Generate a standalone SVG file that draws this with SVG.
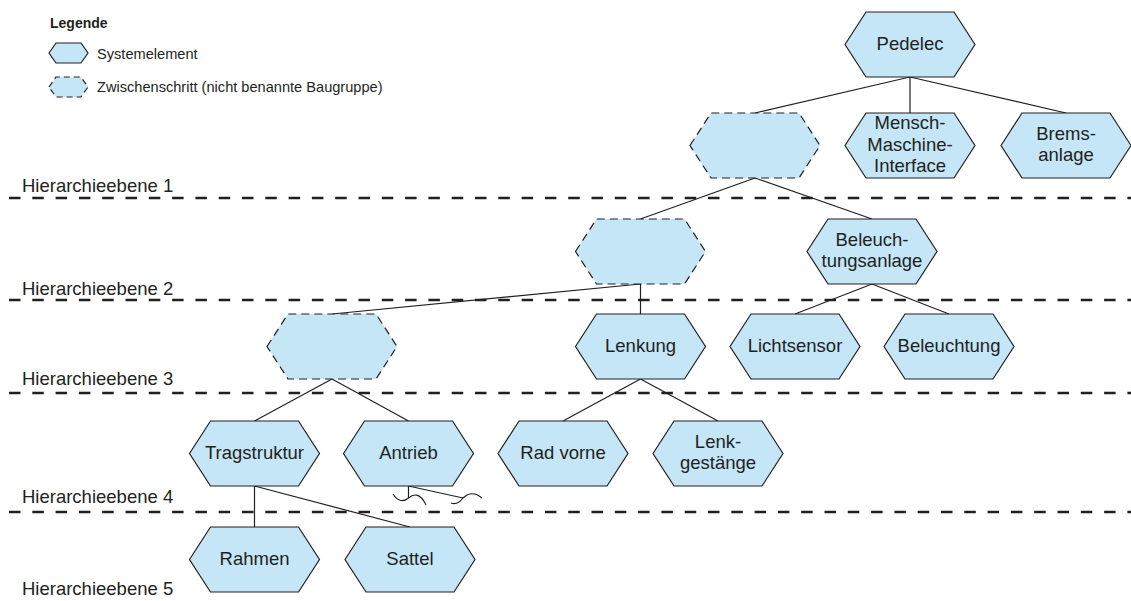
<svg xmlns="http://www.w3.org/2000/svg" width="1131" height="601" viewBox="0 0 1131 601">
  <defs>
    <style>
      .hex { fill: #c4e6f7; stroke: #231f20; stroke-width: 1.2; }
      .hex-dash { fill: #c4e6f7; stroke: #231f20; stroke-width: 1.2; stroke-dasharray: 8 5; }
      .lbl { font-family: "Liberation Sans", Arial, sans-serif; font-size: 18.5px; fill: #231f20; text-anchor: middle; }
      .lvl { font-family: "Liberation Sans", Arial, sans-serif; font-size: 18.5px; fill: #231f20; }
      .leg { font-family: "Liberation Sans", Arial, sans-serif; font-size: 14.6px; fill: #231f20; }
      .leg-title { font-family: "Liberation Sans", Arial, sans-serif; font-size: 14px; font-weight: bold; fill: #231f20; }
      .sep { stroke: #231f20; stroke-width: 2.3; stroke-dasharray: 11.5 11.8; fill: none; }
      .edge { stroke: #231f20; stroke-width: 1.2; fill: none; }
      .brk { stroke: #231f20; stroke-width: 1.1; fill: none; }
    </style>
    <!-- hexagon 130 x 65, origin at centre -->
    <polygon id="hx" points="-65,0 -44,-32.5 44,-32.5 65,0 44,32.5 -44,32.5"/>
  </defs>

  <!-- legend -->
  <g id="legend">
    <text class="leg-title" x="50" y="28">Legende</text>
    <polygon class="hex" points="49,53 56,43 81,43 88,53 81,63 56,63"/>
    <text class="leg" x="97" y="59">Systemelement</text>
    <polygon class="hex-dash" points="49,87 56,77 81,77 88,87 81,97 56,97" style="stroke-dasharray:6 4"/>
    <text class="leg" x="97" y="92">Zwischenschritt (nicht benannte Baugruppe)</text>
  </g>

  <!-- hierarchy levels -->
  <g id="levels">
    <line class="sep" x1="9" y1="198" x2="1131" y2="198"/>
    <line class="sep" x1="9" y1="300" x2="1131" y2="300"/>
    <line class="sep" x1="9" y1="393" x2="1131" y2="393"/>
    <line class="sep" x1="9" y1="512" x2="1131" y2="512"/>
    <text class="lvl" x="22" y="192">Hierarchieebene 1</text>
    <text class="lvl" x="22" y="295">Hierarchieebene 2</text>
    <text class="lvl" x="22" y="385">Hierarchieebene 3</text>
    <text class="lvl" x="22" y="503">Hierarchieebene 4</text>
    <text class="lvl" x="22" y="595">Hierarchieebene 5</text>
  </g>

  <!-- connectors -->
  <g id="connectors">
    <line class="edge" x1="910" y1="77" x2="755" y2="113"/>
    <line class="edge" x1="910" y1="77" x2="910" y2="113"/>
    <line class="edge" x1="910" y1="77" x2="1066" y2="113"/>
    <line class="edge" x1="755" y1="178" x2="640.5" y2="219"/>
    <line class="edge" x1="755" y1="178" x2="872" y2="219"/>
    <line class="edge" x1="640.5" y1="284" x2="332" y2="314"/>
    <line class="edge" x1="640.5" y1="284" x2="640.5" y2="314"/>
    <line class="edge" x1="872" y1="284" x2="795" y2="314"/>
    <line class="edge" x1="872" y1="284" x2="949" y2="314"/>
    <line class="edge" x1="332" y1="379" x2="254.5" y2="421"/>
    <line class="edge" x1="332" y1="379" x2="408.5" y2="421"/>
    <line class="edge" x1="640.5" y1="379" x2="563" y2="421"/>
    <line class="edge" x1="640.5" y1="379" x2="718" y2="421"/>
    <line class="edge" x1="254.5" y1="486" x2="254.5" y2="527"/>
    <line class="edge" x1="254.5" y1="486" x2="410" y2="527"/>
    <!-- truncated branches below Antrieb -->
    <line class="edge" x1="408.5" y1="486" x2="408.5" y2="498"/>
    <line class="edge" x1="408.5" y1="486" x2="463" y2="498"/>
    <path class="brk" d="M393,494 C398,502 404,502 408.5,498 C413,494 420,492 426,505"/>
    <path class="brk" d="M451,503 C456,505 460,502 463,498 C467,494 474,491 482,498"/>
  </g>

  <!-- nodes -->
  <g id="n-pedelec" transform="translate(910,44.5)">
    <use href="#hx" class="hex"/>
    <text class="lbl" y="5">Pedelec</text>
  </g>
  <g id="n-step1" transform="translate(755,145.5)">
    <use href="#hx" class="hex-dash"/>
  </g>
  <g id="n-mmi" transform="translate(910,145.5)">
    <use href="#hx" class="hex"/>
    <text class="lbl" y="-16.3">Mensch-</text>
    <text class="lbl" y="5">Maschine-</text>
    <text class="lbl" y="26.3">Interface</text>
  </g>
  <g id="n-brems" transform="translate(1066,145.5)">
    <use href="#hx" class="hex"/>
    <text class="lbl" y="-5.7">Brems-</text>
    <text class="lbl" y="15.7">anlage</text>
  </g>
  <g id="n-step2" transform="translate(640.5,251.5)">
    <use href="#hx" class="hex-dash"/>
  </g>
  <g id="n-beleuchtungsanlage" transform="translate(872,251.5)">
    <use href="#hx" class="hex"/>
    <text class="lbl" y="-5.7">Beleuch-</text>
    <text class="lbl" y="15.7">tungsanlage</text>
  </g>
  <g id="n-step3" transform="translate(332,346.5)">
    <use href="#hx" class="hex-dash"/>
  </g>
  <g id="n-lenkung" transform="translate(640.5,346.5)">
    <use href="#hx" class="hex"/>
    <text class="lbl" y="5">Lenkung</text>
  </g>
  <g id="n-lichtsensor" transform="translate(795,346.5)">
    <use href="#hx" class="hex"/>
    <text class="lbl" y="5">Lichtsensor</text>
  </g>
  <g id="n-beleuchtung" transform="translate(949,346.5)">
    <use href="#hx" class="hex"/>
    <text class="lbl" y="5">Beleuchtung</text>
  </g>
  <g id="n-tragstruktur" transform="translate(254.5,453.5)">
    <use href="#hx" class="hex"/>
    <text class="lbl" y="5">Tragstruktur</text>
  </g>
  <g id="n-antrieb" transform="translate(408.5,453.5)">
    <use href="#hx" class="hex"/>
    <text class="lbl" y="5">Antrieb</text>
  </g>
  <g id="n-rad-vorne" transform="translate(563,453.5)">
    <use href="#hx" class="hex"/>
    <text class="lbl" y="5">Rad vorne</text>
  </g>
  <g id="n-lenkgestaenge" transform="translate(718,453.5)">
    <use href="#hx" class="hex"/>
    <text class="lbl" y="-5.7">Lenk-</text>
    <text class="lbl" y="15.7">gestänge</text>
  </g>
  <g id="n-rahmen" transform="translate(254.5,559.5)">
    <use href="#hx" class="hex"/>
    <text class="lbl" y="5">Rahmen</text>
  </g>
  <g id="n-sattel" transform="translate(410,559.5)">
    <use href="#hx" class="hex"/>
    <text class="lbl" y="5">Sattel</text>
  </g>
</svg>
